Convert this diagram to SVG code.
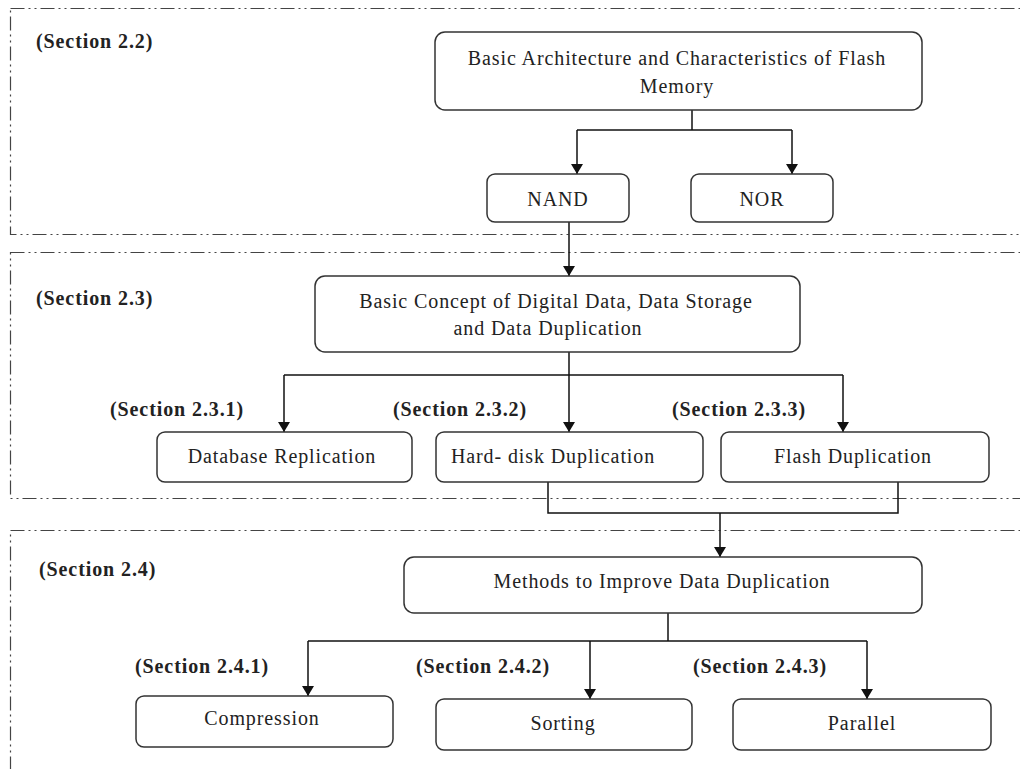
<svg xmlns="http://www.w3.org/2000/svg" width="1020" height="769" viewBox="0 0 1020 769">
<defs>
<marker id="arr" viewBox="0 0 10 12" refX="10" refY="6" markerWidth="12" markerHeight="12" markerUnits="userSpaceOnUse" orient="auto">
<path d="M0,0 L10,6 L0,12 z" fill="#111"/>
</marker>
<style>
.sec{fill:none;stroke:#444;stroke-width:1.2;stroke-dasharray:14 4 2 4 2 4}
.node rect{fill:#fff;stroke:#333;stroke-width:1.5}
.node text{font-family:"Liberation Serif","Times New Roman",serif;font-size:20px;letter-spacing:0.9px;fill:#222;text-anchor:middle}
.lbl{font-family:"Liberation Serif","Times New Roman",serif;font-size:20px;font-weight:bold;letter-spacing:0.9px;fill:#222}
.con path{fill:none;stroke:#111;stroke-width:1.5}
</style>
</defs>
<rect width="1020" height="769" fill="#fff"/>
<g id="sections">
<rect class="sec" x="10.5" y="8.5" width="1030" height="226"/>
<rect class="sec" x="10.5" y="252.5" width="1030" height="246"/>
<rect class="sec" x="10.5" y="530.5" width="1030" height="260"/>
<text class="lbl" x="36" y="48">(Section 2.2)</text>
<text class="lbl" x="36" y="305">(Section 2.3)</text>
<text class="lbl" x="39" y="576">(Section 2.4)</text>
<text class="lbl" x="110" y="416">(Section 2.3.1)</text>
<text class="lbl" x="393" y="416">(Section 2.3.2)</text>
<text class="lbl" x="672" y="416">(Section 2.3.3)</text>
<text class="lbl" x="135" y="673">(Section 2.4.1)</text>
<text class="lbl" x="416" y="673">(Section 2.4.2)</text>
<text class="lbl" x="693" y="673">(Section 2.4.3)</text>
</g>
<g id="connectors" class="con">
<path d="M692,110 V130"/>
<path d="M577,130 H792"/>
<path d="M577,130 V174" marker-end="url(#arr)"/>
<path d="M792,130 V174" marker-end="url(#arr)"/>
<path d="M569,222 V276" marker-end="url(#arr)"/>
<path d="M569,352 V432" marker-end="url(#arr)"/>
<path d="M284,375 H843"/>
<path d="M284,375 V432" marker-end="url(#arr)"/>
<path d="M843,375 V432" marker-end="url(#arr)"/>
<path d="M548,482 V513 H898 V482"/>
<path d="M720,513 V557" marker-end="url(#arr)"/>
<path d="M668,613 V641"/>
<path d="M308,641 H867"/>
<path d="M308,641 V696" marker-end="url(#arr)"/>
<path d="M590,641 V699" marker-end="url(#arr)"/>
<path d="M867,641 V699" marker-end="url(#arr)"/>
</g>
<g id="n-flash" class="node">
<rect x="435" y="32" width="487" height="78" rx="10"/>
<text x="677" y="65">Basic Architecture and Characteristics of Flash</text>
<text x="677" y="93">Memory</text>
</g>
<g id="n-nand" class="node">
<rect x="487" y="174" width="142" height="48" rx="8"/>
<text x="558" y="206">NAND</text>
</g>
<g id="n-nor" class="node">
<rect x="691" y="174" width="142" height="48" rx="8"/>
<text x="762" y="206">NOR</text>
</g>
<g id="n-concept" class="node">
<rect x="315" y="276" width="485" height="76" rx="10"/>
<text x="556" y="308">Basic Concept of  Digital Data, Data Storage</text>
<text x="548" y="335">and Data Duplication</text>
</g>
<g id="n-db" class="node">
<rect x="157" y="432" width="255" height="50" rx="8"/>
<text x="282" y="463">Database Replication</text>
</g>
<g id="n-hdd" class="node">
<rect x="436" y="432" width="267" height="50" rx="8"/>
<text x="553" y="463">Hard- disk Duplication</text>
</g>
<g id="n-fdup" class="node">
<rect x="721" y="432" width="268" height="50" rx="8"/>
<text x="853" y="463">Flash Duplication</text>
</g>
<g id="n-methods" class="node">
<rect x="404" y="557" width="518" height="56" rx="10"/>
<text x="662" y="588">Methods to Improve Data Duplication</text>
</g>
<g id="n-comp" class="node">
<rect x="136" y="696" width="257" height="51" rx="8"/>
<text x="262" y="725">Compression</text>
</g>
<g id="n-sort" class="node">
<rect x="436" y="699" width="256" height="51" rx="8"/>
<text x="563" y="730">Sorting</text>
</g>
<g id="n-par" class="node">
<rect x="733" y="699" width="258" height="51" rx="8"/>
<text x="862" y="730">Parallel</text>
</g>
</svg>
